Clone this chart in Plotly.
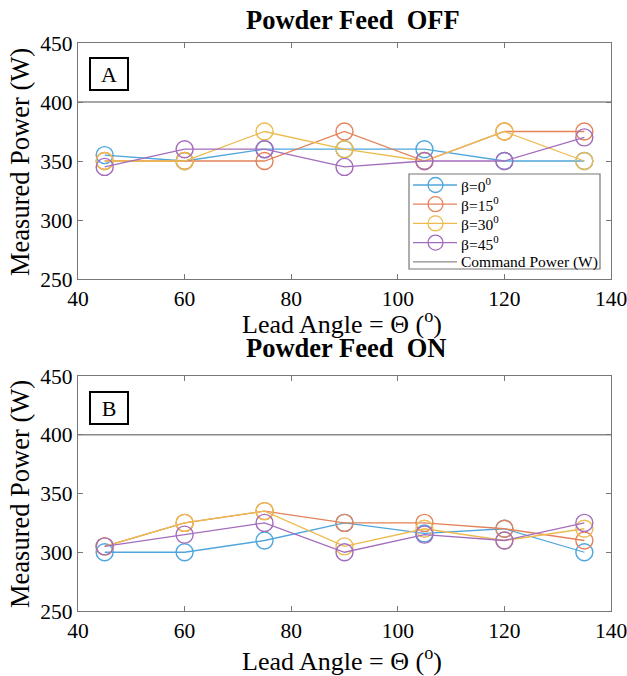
import plotly.graph_objects as go

lead_angle = [45, 60, 75, 90, 105, 120, 135]
series_names = ["β=0<sup>0</sup>", "β=15<sup>0</sup>", "β=30<sup>0</sup>", "β=45<sup>0</sup>"]
command_name = "Command Power (W)"
colors = ["#4FA6DC", "#E4825A", "#EDBA4E", "#A46CBC"]
command_color = "#8a8a8a"

off_b0 = [355, 350, 360, 360, 360, 350, 350]
off_b15 = [350, 350, 350, 375, 350, 375, 375]
off_b30 = [350, 350, 375, 360, 350, 375, 350]
off_b45 = [345, 360, 360, 345, 350, 350, 370]

on_b0 = [300, 300, 310, 325, 316, 320, 300]
on_b15 = [305, 325, 335, 325, 325, 320, 310]
on_b30 = [305, 325, 335, 305, 320, 310, 320]
on_b45 = [305, 315, 325, 300, 315, 310, 325]

command_x = [40, 140]
command_power = [400, 400]

x_ticks = [40, 60, 80, 100, 120, 140]
y_ticks = [250, 300, 350, 400, 450]

off_data = [off_b0, off_b15, off_b30, off_b45]
on_data = [on_b0, on_b15, on_b30, on_b45]

W, H = 627, 676
FONT = "Liberation Serif"

def fx(px):
    return px / W

def fy(py):
    return 1 - py / H

fig = go.Figure()

for i, ys in enumerate(off_data):
    fig.add_trace(go.Scatter(
        x=lead_angle, y=ys, mode="lines+markers", name=series_names[i],
        line=dict(color=colors[i], width=1.3),
        marker=dict(symbol="circle-open", size=17, color=colors[i], line=dict(width=1.4)),
        xaxis="x", yaxis="y"))
fig.add_trace(go.Scatter(
    x=command_x, y=command_power, mode="lines", name=command_name,
    line=dict(color=command_color, width=1.3), xaxis="x", yaxis="y"))

for i, ys in enumerate(on_data):
    fig.add_trace(go.Scatter(
        x=lead_angle, y=ys, mode="lines+markers", name=series_names[i],
        line=dict(color=colors[i], width=1.3),
        marker=dict(symbol="circle-open", size=17, color=colors[i], line=dict(width=1.4)),
        xaxis="x2", yaxis="y2"))
fig.add_trace(go.Scatter(
    x=command_x, y=command_power, mode="lines", name=command_name,
    line=dict(color=command_color, width=1.3), xaxis="x2", yaxis="y2"))

xdom = [fx(78), fx(611)]
axis_common = dict(
    showline=True, linecolor="#777777", linewidth=1.2, mirror="ticks",
    ticks="inside", ticklen=5, tickcolor="#777777", showgrid=False, zeroline=False,
    automargin=False, ticklabeloverflow="allow",
    tickfont=dict(family=FONT, size=21.5, color="black"),
)

fig.update_layout(
    width=W, height=H,
    margin=dict(l=0, r=0, t=0, b=0, pad=0, autoexpand=False),
    paper_bgcolor="white", plot_bgcolor="white",
    showlegend=False,
    xaxis=dict(domain=xdom, range=[40, 140], tickvals=x_ticks, anchor="y", **axis_common),
    yaxis=dict(domain=[fy(279), fy(43)], range=[250, 450], tickvals=y_ticks, anchor="x", **axis_common),
    xaxis2=dict(domain=xdom, range=[40, 140], tickvals=x_ticks, anchor="y2", **axis_common),
    yaxis2=dict(domain=[fy(611), fy(376)], range=[250, 450], tickvals=y_ticks, anchor="x2", **axis_common),
)

ann = []
shapes = []
def text_ann(txt, x, y, size, bold=False, angle=0, xanchor="center"):
    t = f"<b>{txt}</b>" if bold else txt
    return dict(text=t, x=fx(x), y=fy(y), xref="paper", yref="paper",
                showarrow=False, textangle=angle, xanchor=xanchor, yanchor="middle",
                font=dict(family=FONT, size=size, color="black"))

ann.append(text_ann("Powder Feed&nbsp;&nbsp;OFF", 353, 20, 26.5, bold=True))
ann.append(text_ann("Powder Feed&nbsp;&nbsp;ON", 346, 348, 26.5, bold=True))
ann.append(text_ann("Lead Angle = Θ (<sup>o</sup>)", 342, 322, 26))
ann.append(text_ann("Lead Angle = Θ (<sup>o</sup>)", 342, 659, 26))
ann.append(text_ann("Measured Power (W)", 20, 162, 26.5, angle=-90))
ann.append(text_ann("Measured Power (W)", 20, 494, 26.5, angle=-90))
for lab, yc in [("A", 74), ("B", 408)]:
    ann.append(dict(text=lab, x=fx(109), y=fy(yc), xref="paper", yref="paper",
                    showarrow=False, xanchor="center", yanchor="middle",
                    bordercolor="black", borderwidth=2, borderpad=3, bgcolor="white",
                    width=30, height=24,
                    font=dict(family=FONT, size=22, color="black")))

# Legend (top panel), built from the series names and colours
shapes.append(dict(type="rect", xref="paper", yref="paper",
                   x0=fx(409), x1=fx(600), y0=fy(269), y1=fy(174),
                   line=dict(color="#777777", width=1.2), fillcolor="white", layer="above"))
leg_names = series_names + [command_name]
leg_colors = colors + [command_color]
leg_y0, leg_dy = 185, 19.2
for k, (nm, col) in enumerate(zip(leg_names, leg_colors)):
    yy = leg_y0 + k * leg_dy
    shapes.append(dict(type="line", xref="paper", yref="paper",
                       x0=fx(413), x1=fx(457), y0=fy(yy), y1=fy(yy),
                       line=dict(color=col, width=1.3), layer="above"))
    if k < len(series_names):
        shapes.append(dict(type="circle", xref="paper", yref="paper",
                           x0=fx(428), x1=fx(443), y0=fy(yy + 7.5), y1=fy(yy - 7.5),
                           line=dict(color=col, width=1.3), layer="above"))
    ann.append(text_ann(nm, 459, yy, 15.5, xanchor="left"))

fig.update_layout(annotations=ann, shapes=shapes)

# remove the default page margin so the 627x676 figure fills the window exactly
fig.write_html(
    "out.html",
    config={"displayModeBar": False},
    post_script="document.body.style.margin='0';document.body.style.overflow='hidden';",
)
